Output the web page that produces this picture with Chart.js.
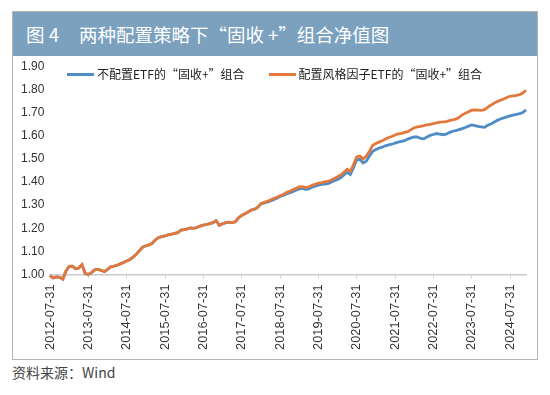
<!DOCTYPE html>
<html lang="zh-CN">

<head>
    <meta charset="UTF-8">
    <title>两种配置策略下“固收 +”组合净值图</title>
    <script src="https://cdn.jsdelivr.net/npm/chart.js"></script>
    <style>
        body { margin: 0; width: 550px; height: 395px; background: #fff; position: relative; overflow: hidden;
               font-family: "Liberation Sans", "Noto Sans CJK SC", sans-serif; }
        #frame { position: absolute; left: 12px; top: 11px; width: 524px; height: 347px; border: 1px solid #b4b4b4; }
        #band { position: absolute; left: 0; top: 0; width: 524px; height: 44px; background: #7ba1bf; color: #fff;
                font-size: 18.5px; line-height: 44px; font-family: "Noto Sans CJK SC", sans-serif; }
        #band .num { margin-left: 13px; margin-right: 20px; }
        #legend { position: absolute; left: 67px; top: 65px; display: flex; font-size: 12px; color: #222;
                  font-family: "Noto Sans CJK SC", sans-serif; line-height: 18px; }
        #legend .item { display: flex; align-items: center; margin-right: 24px; }
        #legend .swatch { width: 27px; height: 3px; margin-right: 3px; }
        #c { position: absolute; left: 12px; top: 56px; }
        #source { position: absolute; left: 12px; top: 362px; font-size: 14px; color: #444;
                  font-family: "Noto Sans CJK SC", sans-serif; }
    </style>
</head>

<body>
    <div id="frame">
        <div id="band"><span class="num">图 4</span>两种配置策略下“固收 +”组合净值图</div>
    </div>
    <canvas id="c" width="524" height="302"></canvas>
    <div id="legend"></div>
    <div id="source">资料来源：Wind</div>
    <script>
        // 月末日期 2012-07 ~ 2024-12
        var months = [];
        for (var y = 2012; y <= 2024; y++) {
            for (var m = (y == 2012 ? 7 : 1); m <= 12; m++) {
                var d = new Date(y, m, 0).getDate();
                months.push(y + '-' + (m < 10 ? '0' + m : m) + '-' + d);
            }
        }

        var tickLabels = ['2012-07-31', '2013-07-31', '2014-07-31', '2015-07-31', '2016-07-31', '2017-07-31',
            '2018-07-31', '2019-07-31', '2020-07-31', '2021-07-31', '2022-07-31', '2023-07-31', '2024-07-31'];
        var yTicks = [1.00, 1.10, 1.20, 1.30, 1.40, 1.50, 1.60, 1.70, 1.80, 1.90];

        var seriesNames = ['不配置ETF的“固收+”组合', '配置风格因子ETF的“固收+”组合'];

        // 不配置ETF
        var noEtf = [0.995, 0.985, 0.990, 0.988, 0.980, 1.015, 1.035, 1.036, 1.025, 1.028,
            1.043, 1.005, 1.000, 1.008, 1.020, 1.022, 1.018, 1.012, 1.022, 1.033,
            1.036, 1.040, 1.046, 1.052, 1.058, 1.065, 1.075, 1.087, 1.103, 1.118,
            1.124, 1.128, 1.135, 1.150, 1.160, 1.164, 1.167, 1.171, 1.174, 1.178,
            1.181, 1.192, 1.194, 1.197, 1.201, 1.199, 1.203, 1.209, 1.213, 1.216,
            1.220, 1.224, 1.233, 1.212, 1.219, 1.224, 1.226, 1.224, 1.228, 1.245,
            1.255, 1.262, 1.270, 1.278, 1.282, 1.290, 1.304, 1.309, 1.313, 1.318,
            1.323, 1.329, 1.337, 1.342, 1.348, 1.352, 1.358, 1.364, 1.370, 1.372,
            1.368, 1.370, 1.377, 1.382, 1.386, 1.389, 1.391, 1.393, 1.399, 1.405,
            1.411, 1.418, 1.430, 1.441, 1.432, 1.462, 1.496, 1.498, 1.482, 1.490,
            1.512, 1.532, 1.540, 1.546, 1.550, 1.556, 1.560, 1.563, 1.568, 1.572,
            1.575, 1.578, 1.585, 1.590, 1.594, 1.594, 1.588, 1.586, 1.594, 1.601,
            1.605, 1.609, 1.607, 1.604, 1.606, 1.613, 1.619, 1.622, 1.626, 1.630,
            1.635, 1.641, 1.646, 1.643, 1.640, 1.638, 1.636, 1.645, 1.650, 1.658,
            1.666, 1.672, 1.677, 1.681, 1.685, 1.689, 1.692, 1.695, 1.700, 1.711];

        // 配置风格因子ETF
        var withEtf = [0.995, 0.985, 0.990, 0.988, 0.980, 1.015, 1.035, 1.036, 1.025, 1.028,
            1.043, 1.005, 1.000, 1.008, 1.020, 1.022, 1.018, 1.012, 1.022, 1.033,
            1.036, 1.040, 1.046, 1.052, 1.058, 1.065, 1.075, 1.087, 1.103, 1.118,
            1.124, 1.128, 1.135, 1.150, 1.160, 1.164, 1.167, 1.171, 1.174, 1.178,
            1.181, 1.192, 1.194, 1.197, 1.201, 1.199, 1.203, 1.209, 1.213, 1.216,
            1.220, 1.224, 1.233, 1.212, 1.219, 1.224, 1.226, 1.224, 1.228, 1.245,
            1.255, 1.262, 1.270, 1.278, 1.282, 1.290, 1.306, 1.312, 1.316, 1.322,
            1.328, 1.334, 1.340, 1.346, 1.354, 1.359, 1.366, 1.372, 1.379, 1.380,
            1.376, 1.378, 1.385, 1.390, 1.395, 1.397, 1.400, 1.402, 1.408, 1.415,
            1.422, 1.430, 1.442, 1.455, 1.446, 1.475, 1.508, 1.512, 1.500, 1.512,
            1.532, 1.558, 1.566, 1.572, 1.578, 1.585, 1.592, 1.596, 1.603, 1.608,
            1.610, 1.614, 1.617, 1.626, 1.634, 1.638, 1.640, 1.643, 1.647, 1.649,
            1.652, 1.655, 1.658, 1.659, 1.661, 1.665, 1.668, 1.671, 1.678, 1.690,
            1.697, 1.703, 1.710, 1.711, 1.710, 1.709, 1.712, 1.722, 1.732, 1.740,
            1.747, 1.753, 1.758, 1.765, 1.770, 1.772, 1.774, 1.777, 1.784, 1.796];

        var colors = ['#4d8cc6', '#e4783c'];

        var myChart = new Chart(document.getElementById('c'), {
            type: 'line',
            data: {
                labels: months,
                datasets: [{
                    label: seriesNames[0],
                    data: noEtf,
                    borderColor: colors[0],
                    backgroundColor: colors[0],
                    borderWidth: 2.8,
                    pointRadius: 0,
                    clip: false,
                    order: 1
                }, {
                    label: seriesNames[1],
                    data: withEtf,
                    borderColor: colors[1],
                    backgroundColor: colors[1],
                    borderWidth: 2.8,
                    pointRadius: 0,
                    clip: false,
                    order: 0
                }]
            },
            options: {
                responsive: false,
                animation: false,
                layout: { padding: { left: 9, right: 10, top: 0, bottom: 0 } },
                plugins: {
                    legend: { display: false },
                    tooltip: { enabled: false }
                },
                scales: {
                    x: {
                        type: 'category',
                        offset: false,
                        afterFit: function (scale) { scale.height = 83.5; },
                        grid: { drawOnChartArea: false, drawTicks: true, tickLength: 4, color: '#cfcfcf' },
                        border: { color: '#cacaca', width: 1.5 },
                        ticks: {
                            autoSkip: false,
                            minRotation: 90,
                            maxRotation: 90,
                            padding: 6,
                            color: '#333',
                            font: { family: 'Liberation Sans', size: 12.8 },
                            callback: function (v, i) {
                                var lb = this.getLabelForValue(v);
                                return tickLabels.indexOf(lb) >= 0 ? lb : null;
                            }
                        }
                    },
                    y: {
                        min: yTicks[0],
                        max: yTicks[yTicks.length - 1],
                        afterFit: function (scale) { scale.width = 29; },
                        afterBuildTicks: function (scale) {
                            scale.ticks = yTicks.map(function (t) { return { value: t }; });
                        },
                        grid: { display: false },
                        border: { display: false },
                        ticks: {
                            crossAlign: 'far',
                            color: '#333',
                            font: { family: 'Liberation Sans', size: 12 },
                            callback: function (v) { return v.toFixed(2); }
                        }
                    }
                }
            }
        });

        // 图例
        var lg = document.getElementById('legend');
        myChart.data.datasets.forEach(function (ds) {
            var it = document.createElement('div');
            it.className = 'item';
            it.innerHTML = '<span class="swatch" style="background:' + ds.borderColor + '"></span><span>' + ds.label + '</span>';
            lg.appendChild(it);
        });
    </script>
</body>

</html>
